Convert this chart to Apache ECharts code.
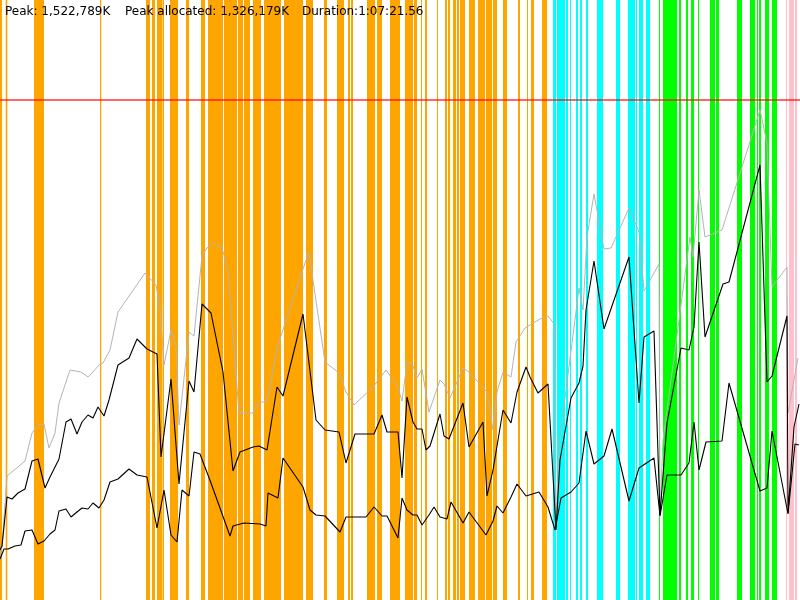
<!DOCTYPE html>
<html>
<head>
<meta charset="utf-8">
<script src="https://cdn.jsdelivr.net/npm/echarts@6/dist/echarts.min.js"></script>
<style>html,body{margin:0;padding:0;background:#fff}#c{width:800px;height:600px}</style>
</head>
<body>
<div id="c"></div>
<script>
// time axis units (0..800), memory axis units (0..600)
const timeMax = 800;
const memMax = 600;
const peakLevel = 500;

const headerTexts = ['Peak: 1,522,789K', 'Peak allocated: 1,326,179K', 'Duration:1:07:21.56'];

// activity bands [start, end] on the time axis
const orangeBands = [[0,2],[5.7,7.3],[34,44],[100,101.3],[146,150],[152,155],[157,162],[162.5,164],[170,178],[186,189],[201,205],[208,223],[224,237],[238,243],[244,250],[253,261],[264,281],[284,303],[306,313],[324,327],[337,344],[348,350],[351,353],[367,375],[377,382],[390,400],[405,413],[414,417],[421,422],[425,427],[437,438],[445,447],[448,450],[453,456],[457,459],[460,465],[469,475],[478,485],[486,492],[493,497],[503,507],[518,520],[527,528],[531,534],[542,547]];
const cyanBands = [[553,556],[557,565],[566,568],[570,571],[576,578],[580,582],[586,588],[597,603],[616,620],[628,635],[636,637],[639,643],[646,650]];
const greenBands = [[659,660],[663,677],[679,681],[686,688],[691,694],[698,699],[710,715],[716,719],[737,742],[750,755],[757,758],[759,761],[765,769],[772,777]];
const pinkBands = [[786,787],[789,794],[795,797]];

// memory series [time, value]
const totalSeries = [[0,41],[2,54],[7,124],[25,139],[32,167],[38,175],[44,176],[49,152],[55,167],[59,197],[70,230],[81,228],[88,223],[92,227],[99,235],[103,237],[110,250],[118,288],[145,327],[156,315],[160,293],[164,235],[171,270],[176,255],[179,175],[189,268],[194,264],[202,344],[207,352],[213,357],[222,352],[228,330],[239,187],[253,187],[259,198],[266,198],[269,208],[277,252],[305,337],[309,347],[325,238],[339,227],[346,208],[354,195],[373,213],[386,230],[397,215],[402,199],[407,237],[412,237],[417,222],[422,231],[429,188],[440,220],[444,216],[450,202],[463,232],[469,228],[487,208],[493,170],[497,208],[503,228],[511,223],[516,258],[525,272],[540,281],[548,284],[555,275],[556,72],[559,155],[579,312],[583,290],[587,363],[594,406],[604,351],[611,352],[629,392],[639,368],[644,309],[659,336],[660,85],[663,160],[690,363],[693,343],[699,410],[705,363],[722,370],[760,490],[767,457],[772,313],[787,333],[788,187],[798,242]];
const allocatedSeries = [[0,50],[2,54],[7,103],[12,101],[18,107],[25,111],[32,139],[38,141],[45,112],[50,123],[59,141],[66,178],[71,181],[77,166],[82,178],[88,185],[93,182],[98,193],[104,184],[109,200],[118,235],[129,242],[137,261],[147,251],[157,246],[161,143],[171,221],[179,116],[189,219],[194,208],[202,296],[211,287],[223,228],[233,129],[240,148],[253,153],[259,154],[267,150],[277,213],[283,204],[303,286],[316,180],[325,170],[339,168],[346,137],[355,166],[374,166],[382,185],[387,168],[398,168],[402,122],[407,203],[413,178],[417,171],[422,171],[426,150],[430,154],[440,186],[444,164],[449,161],[463,197],[469,153],[483,178],[487,104],[493,130],[503,190],[511,177],[517,208],[526,233],[530,223],[538,207],[548,216],[556,70],[560,140],[571,202],[579,217],[583,234],[586,290],[594,339],[604,271],[613,297],[629,343],[639,197],[644,263],[654,269],[660,85],[667,177],[681,252],[689,250],[694,273],[699,358],[705,263],[723,316],[729,318],[760,435],[767,218],[772,224],[787,284],[788,87],[794,173],[799,196]];
const liveSeries = [[0,41],[4,51],[8,51],[15,54],[21,55],[25,69],[32,70],[38,56],[44,59],[50,66],[55,70],[59,89],[66,91],[71,83],[77,88],[82,92],[88,91],[93,97],[99,92],[104,100],[110,118],[118,121],[129,131],[137,125],[147,123],[157,72],[164,110],[171,65],[177,58],[182,110],[189,104],[194,148],[200,146],[211,117],[230,64],[233,74],[244,77],[260,76],[266,74],[268,107],[278,102],[283,142],[303,113],[310,90],[316,85],[325,84],[340,68],[346,83],[366,83],[374,93],[382,84],[387,84],[398,62],[402,102],[407,90],[413,85],[417,85],[422,75],[429,85],[434,93],[440,83],[447,81],[451,98],[463,77],[469,88],[486,65],[493,79],[497,94],[503,87],[511,103],[517,116],[526,104],[539,108],[548,93],[555,70],[561,102],[571,108],[579,117],[586,169],[594,136],[604,144],[612,171],[629,99],[639,132],[654,142],[660,84],[667,125],[681,125],[689,137],[694,178],[699,130],[706,158],[722,159],[729,217],[760,109],[767,112],[772,169],[788,86],[795,156],[799,155]];

function bandSeries(data, color) {
  return {
    type: 'custom', silent: true, z: 1,
    data: data,
    encode: { x: [0, 1] },
    renderItem: function (params, api) {
      const a = api.coord([api.value(0), memMax]);
      const b = api.coord([api.value(1), 0]);
      return { type: 'rect', shape: { x: a[0], y: a[1], width: Math.max(b[0] - a[0], 0.8), height: b[1] - a[1] }, style: { fill: color } };
    }
  };
}
function lineSeries(data, color, width, z) {
  return { type: 'line', data: data, symbol: 'none', silent: true, z: z,
    lineStyle: { color: color, width: width }, animation: false };
}

const chart = echarts.init(document.getElementById('c'));
chart.setOption({
  animation: false,
  backgroundColor: '#fff',
  title: [
    { text: headerTexts[0], left: 5, top: 6 },
    { text: headerTexts[1], left: 125, top: 6 },
    { text: headerTexts[2], left: 302, top: 6 }
  ].map(t => Object.assign(t, { padding: 0, textStyle: { fontSize: 12, fontWeight: 'normal', color: '#000', fontFamily: 'DejaVu Sans' } })),
  grid: { left: 0, right: 0, top: 0, bottom: 0 },
  xAxis: { type: 'value', min: 0, max: timeMax, show: false },
  yAxis: { type: 'value', min: 0, max: memMax, show: false },
  series: [
    bandSeries(orangeBands, '#FFA500'),
    bandSeries(cyanBands, '#00FFFF'),
    bandSeries(greenBands, '#00FF00'),
    bandSeries(pinkBands, '#FFC0CB'),
    lineSeries(totalSeries, '#b4b4b4', 1, 3),
    lineSeries(allocatedSeries, '#000', 1.1, 4),
    Object.assign(lineSeries(liveSeries, '#000', 1.1, 4), {
      markLine: { silent: true, symbol: 'none', label: { show: false },
        lineStyle: { color: 'rgba(255,0,0,0.6)', width: 2, type: 'solid' },
        data: [{ yAxis: peakLevel }] }
    })
  ]
});
</script>
</body>
</html>
